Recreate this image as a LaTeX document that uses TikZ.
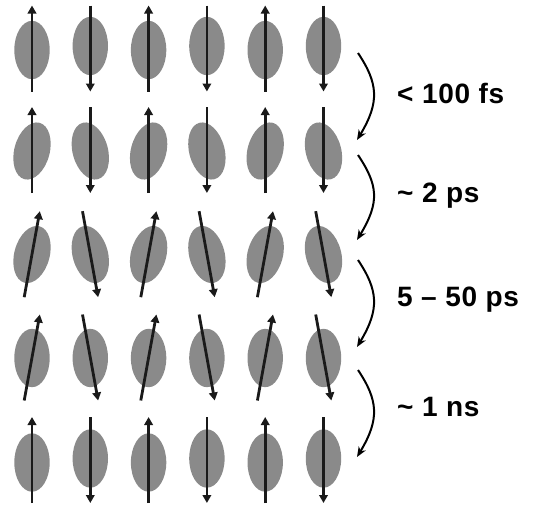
\documentclass[tikz,border=0pt]{standalone}
\usepackage{fontspec}
\setmainfont{Liberation Sans}
\newfontfamily\lblfont{Liberation Sans}[LetterSpace=2.5]
\usetikzlibrary{arrows.meta}
\definecolor{ellgray}{RGB}{138,138,138}
\definecolor{spincol}{RGB}{26,26,26}
\tikzset{
  ell/.style={fill=ellgray},
  spinarrow/.style={draw=spincol, line width=2.8pt, -{Triangle[length=8pt,width=8.5pt]}},
  steparrow/.style={draw=black, line width=2pt, -{Stealth[length=10pt,width=8pt,inset=3pt]}},
  lbl/.style={inner sep=0pt, anchor=base west, font=\lblfont\bfseries\fontsize{28}{30}\selectfont}
}
\begin{document}
\begin{tikzpicture}[x=1pt,y=-1pt]
\useasboundingbox (0,0) rectangle (533,504);
\foreach \ya/\eu/\ed/\ang/\dx in {48.5/50/46/0/0, 150/151/151/15/0, 254.2/254.5/254.5/15/7.8, 357.5/358/358/0/7.8, 460/462.5/458.5/0/0}{
  \foreach \c in {0,...,5}{
    \pgfmathsetmacro\xc{32+58.3*\c}
    \pgfmathtruncatemacro\isup{mod(\c+1,2)}
    \ifnum\isup=1
      \fill[ell, rotate around={-\ang:(\xc,\eu)}] (\xc,\eu) ellipse [x radius=17.7, y radius=29.2];
      \draw[spinarrow] (\xc-\dx,\ya+43) -- (\xc+\dx,\ya-43);
    \else
      \fill[ell, rotate around={\ang:(\xc,\ed)}] (\xc,\ed) ellipse [x radius=17.7, y radius=29.2];
      \draw[spinarrow] (\xc-\dx,\ya-43) -- (\xc+\dx,\ya+43);
    \fi
  }
}
\foreach \k/\ys/\ye in {1/53/140, 2/155/240, 3/260/347, 4/370/457}{
  \coordinate (s\k) at (358,\ys);
  \coordinate (e\k) at (357,\ye);
  \draw[steparrow] (s\k) .. controls (378,\ys+30) and (380,\ye-38) .. (e\k);
}
\node[lbl] (t1) at (397,103) {< 100 fs};
\node[lbl] (t2) at (397,202) {\textasciitilde\ 2 ps};
\node[lbl] (t3) at (397,306.5) {5 – 50 ps};
\node[lbl] (t4) at (397,416) {\textasciitilde\ 1 ns};
\end{tikzpicture}
\end{document}
